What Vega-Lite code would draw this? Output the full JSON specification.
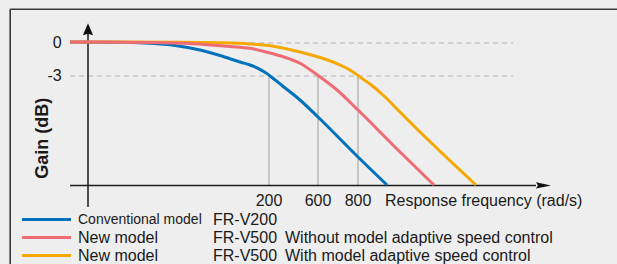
{
  "$schema": "https://vega.github.io/schema/vega-lite/v6.json",
  "width": 617,
  "height": 264,
  "autosize": "none",
  "padding": 0,
  "background": "#eeeeee",
  "config": {"view": {"stroke": null}, "font": "Liberation Sans"},
  "datasets": {
    "curves": [
      {"series": "Conventional model FR-V200", "pos": -4.5, "gain": 0.091},
      {"series": "Conventional model FR-V200", "pos": 10.5, "gain": 0.045},
      {"series": "Conventional model FR-V200", "pos": 15.5, "gain": -0.027},
      {"series": "Conventional model FR-V200", "pos": 21.75, "gain": -0.227},
      {"series": "Conventional model FR-V200", "pos": 28, "gain": -0.636},
      {"series": "Conventional model FR-V200", "pos": 33, "gain": -1.136},
      {"series": "Conventional model FR-V200", "pos": 38, "gain": -1.727},
      {"series": "Conventional model FR-V200", "pos": 40.5, "gain": -2.0},
      {"series": "Conventional model FR-V200", "pos": 42.5, "gain": -2.3},
      {"series": "Conventional model FR-V200", "pos": 44.25, "gain": -2.664},
      {"series": "Conventional model FR-V200", "pos": 46, "gain": -3.136},
      {"series": "Conventional model FR-V200", "pos": 48.5, "gain": -3.864},
      {"series": "Conventional model FR-V200", "pos": 53, "gain": -5.182},
      {"series": "Conventional model FR-V200", "pos": 57.5, "gain": -6.727},
      {"series": "Conventional model FR-V200", "pos": 67.5, "gain": -10.364},
      {"series": "Conventional model FR-V200", "pos": 74.75, "gain": -12.909},
      {"series": "New model FR-V500 with", "pos": -4.5, "gain": 0.091},
      {"series": "New model FR-V500 with", "pos": 23, "gain": 0.064},
      {"series": "New model FR-V500 with", "pos": 33, "gain": 0.018},
      {"series": "New model FR-V500 with", "pos": 40.5, "gain": -0.091},
      {"series": "New model FR-V500 with", "pos": 46.75, "gain": -0.318},
      {"series": "New model FR-V500 with", "pos": 53, "gain": -0.818},
      {"series": "New model FR-V500 with", "pos": 61.25, "gain": -1.727},
      {"series": "New model FR-V500 with", "pos": 65.5, "gain": -2.455},
      {"series": "New model FR-V500 with", "pos": 67.5, "gain": -2.955},
      {"series": "New model FR-V500 with", "pos": 70.5, "gain": -3.727},
      {"series": "New model FR-V500 with", "pos": 73.75, "gain": -4.727},
      {"series": "New model FR-V500 with", "pos": 78, "gain": -6.273},
      {"series": "New model FR-V500 with", "pos": 82.25, "gain": -7.818},
      {"series": "New model FR-V500 with", "pos": 97, "gain": -12.909},
      {"series": "New model FR-V500 without", "pos": -4.5, "gain": 0.091},
      {"series": "New model FR-V500 without", "pos": 15.5, "gain": 0.045},
      {"series": "New model FR-V500 without", "pos": 25.5, "gain": -0.045},
      {"series": "New model FR-V500 without", "pos": 30.5, "gain": -0.182},
      {"series": "New model FR-V500 without", "pos": 35.5, "gain": -0.318},
      {"series": "New model FR-V500 without", "pos": 40.5, "gain": -0.482},
      {"series": "New model FR-V500 without", "pos": 45.5, "gain": -0.909},
      {"series": "New model FR-V500 without", "pos": 48.75, "gain": -1.245},
      {"series": "New model FR-V500 without", "pos": 53, "gain": -1.845},
      {"series": "New model FR-V500 without", "pos": 57.5, "gain": -2.955},
      {"series": "New model FR-V500 without", "pos": 62.25, "gain": -4.273},
      {"series": "New model FR-V500 without", "pos": 67.5, "gain": -6.091},
      {"series": "New model FR-V500 without", "pos": 78, "gain": -9.909},
      {"series": "New model FR-V500 without", "pos": 86.5, "gain": -12.909}
    ],
    "ticks": [
      {"freq": "200", "pos": 45.25},
      {"freq": "600", "pos": 57.5},
      {"freq": "800", "pos": 67.5}
    ],
    "levels": [
      {"level": 0, "label": "0"},
      {"level": -3, "label": "-3"}
    ],
    "legend": [
      {"series": "Conventional model FR-V200", "model": "Conventional model", "type": "FR-V200", "note": ""},
      {"series": "New model FR-V500 without", "model": "New model", "type": "FR-V500", "note": "Without model adaptive speed control"},
      {"series": "New model FR-V500 with", "model": "New model", "type": "FR-V500", "note": "With model adaptive speed control"}
    ]
  },
  "resolve": {"scale": {"x": "independent", "y": "independent"}},
  "layer": [
    {
      "layer": [
        {
          "data": {"values": [{}]},
          "mark": {"type": "rule", "color": "#3a3a3a", "strokeWidth": 1.6},
          "encoding": {
            "x": {"datum": -19.45, "type": "quantitative", "scale": {"domain": [-22, 132.25], "nice": false, "zero": false}, "axis": null},
            "x2": {"datum": 132.25},
            "y": {"datum": 3.073, "type": "quantitative", "scale": {"domain": [-20.0909, 3.9091], "nice": false, "zero": false}, "axis": null}
          }
        },
        {
          "data": {"values": [{}]},
          "mark": {"type": "rule", "color": "#3a3a3a", "strokeWidth": 1.6},
          "encoding": {
            "x": {"datum": -19.45, "type": "quantitative"},
            "y": {"datum": 3.073, "type": "quantitative"},
            "y2": {"datum": -20.09}
          }
        },
        {
          "data": {"name": "levels"},
          "mark": {"type": "rule", "color": "#b4b4b4", "strokeWidth": 1, "strokeDash": [5, 4]},
          "encoding": {
            "x": {"datum": -4.5, "type": "quantitative"},
            "x2": {"datum": 106.25},
            "y": {"field": "level", "type": "quantitative"}
          }
        },
        {
          "data": {"name": "ticks"},
          "mark": {"type": "rule", "color": "#ababab", "strokeWidth": 1.2},
          "encoding": {
            "x": {"field": "pos", "type": "quantitative"},
            "y": {"datum": -3, "type": "quantitative"},
            "y2": {"datum": -12.95}
          }
        },
        {
          "data": {"values": [{}]},
          "mark": {"type": "rule", "color": "#1a1a1a", "strokeWidth": 1.5},
          "encoding": {
            "x": {"datum": -4.5, "type": "quantitative"},
            "x2": {"datum": 112},
            "y": {"datum": -12.95, "type": "quantitative"}
          }
        },
        {
          "data": {"values": [{}]},
          "mark": {"type": "rule", "color": "#1a1a1a", "strokeWidth": 1.5},
          "encoding": {
            "x": {"datum": 0, "type": "quantitative"},
            "y": {"datum": -14.909, "type": "quantitative"},
            "y2": {"datum": 1.0}
          }
        },
        {
          "data": {"values": [{}]},
          "mark": {"type": "point", "filled": true, "color": "#111111", "opacity": 1, "size": 225, "shape": "M 1 0 L -1 -0.42 L -0.75 0 L -1 0.42 Z"},
          "encoding": {
            "x": {"datum": 113.875, "type": "quantitative"},
            "y": {"datum": -12.95, "type": "quantitative"}
          }
        },
        {
          "data": {"values": [{}]},
          "mark": {"type": "point", "filled": true, "color": "#111111", "opacity": 1, "size": 144, "shape": "M 0 -1 L 0.85 1 L 0 0.75 L -0.85 1 Z"},
          "encoding": {
            "x": {"datum": 0, "type": "quantitative"},
            "y": {"datum": 1.255, "type": "quantitative"}
          }
        },
        {
          "data": {"name": "curves"},
          "mark": {"type": "line", "interpolate": "monotone", "strokeWidth": 3},
          "encoding": {
            "x": {"field": "pos", "type": "quantitative"},
            "y": {"field": "gain", "type": "quantitative"},
            "color": {
              "field": "series", "type": "nominal", "legend": null,
              "scale": {
                "domain": ["Conventional model FR-V200", "New model FR-V500 without", "New model FR-V500 with"],
                "range": ["#0072bc", "#ef6c74", "#f5a800"]
              }
            },
            "detail": {"field": "series"}
          }
        },
        {
          "data": {"name": "ticks"},
          "mark": {"type": "text", "fontSize": 16, "color": "#1a1a1a", "align": "center", "baseline": "middle"},
          "encoding": {
            "x": {"field": "pos", "type": "quantitative"},
            "y": {"datum": -14.32, "type": "quantitative"},
            "text": {"field": "freq"}
          }
        },
        {
          "data": {"values": [{}]},
          "mark": {"type": "text", "fontSize": 16, "color": "#1a1a1a", "align": "left", "baseline": "middle", "text": "Response frequency (rad/s)"},
          "encoding": {
            "x": {"datum": 74.25, "type": "quantitative"},
            "y": {"datum": -14.32, "type": "quantitative"}
          }
        },
        {
          "data": {"name": "levels"},
          "mark": {"type": "text", "fontSize": 16, "color": "#1a1a1a", "align": "right", "baseline": "middle"},
          "encoding": {
            "x": {"datum": -6.575, "type": "quantitative"},
            "y": {"field": "level", "type": "quantitative"},
            "text": {"field": "label"}
          }
        },
        {
          "data": {"values": [{}]},
          "mark": {"type": "text", "fontSize": 18, "fontWeight": "bold", "color": "#1a1a1a", "align": "center", "baseline": "middle", "angle": 270, "text": "Gain (dB)"},
          "encoding": {
            "x": {"datum": -11.25, "type": "quantitative"},
            "y": {"datum": -8.66, "type": "quantitative"}
          }
        }
      ]
    },
    {
      "data": {"name": "legend"},
      "layer": [
        {
          "mark": {"type": "rule", "strokeWidth": 3},
          "encoding": {
            "x": {"datum": -16.5, "type": "quantitative", "scale": {"domain": [-22, 132.25], "nice": false, "zero": false}, "axis": null},
            "x2": {"datum": -4.25},
            "y": {"field": "series", "type": "nominal", "axis": null, "scale": {"type": "point", "domain": ["Conventional model FR-V200", "New model FR-V500 without", "New model FR-V500 with"], "range": [219.5, 255.5], "padding": 0}},
            "color": {"field": "series", "type": "nominal", "legend": null}
          }
        },
        {
          "transform": [{"filter": "datum.model === 'Conventional model'"}],
          "mark": {"type": "text", "fontSize": 14, "color": "#1a1a1a", "align": "left", "baseline": "middle"},
          "encoding": {
            "x": {"datum": -2.5, "type": "quantitative"},
            "y": {"field": "series", "type": "nominal"},
            "text": {"field": "model"}
          }
        },
        {
          "transform": [{"filter": "datum.model !== 'Conventional model'"}],
          "mark": {"type": "text", "fontSize": 16, "color": "#1a1a1a", "align": "left", "baseline": "middle"},
          "encoding": {
            "x": {"datum": -2.5, "type": "quantitative"},
            "y": {"field": "series", "type": "nominal"},
            "text": {"field": "model"}
          }
        },
        {
          "mark": {"type": "text", "fontSize": 16, "color": "#1a1a1a", "align": "left", "baseline": "middle"},
          "encoding": {
            "x": {"datum": 31.25, "type": "quantitative"},
            "y": {"field": "series", "type": "nominal"},
            "text": {"field": "type"}
          }
        },
        {
          "mark": {"type": "text", "fontSize": 16, "color": "#1a1a1a", "align": "left", "baseline": "middle"},
          "encoding": {
            "x": {"datum": 49.25, "type": "quantitative"},
            "y": {"field": "series", "type": "nominal"},
            "text": {"field": "note"}
          }
        }
      ]
    }
  ]
}
